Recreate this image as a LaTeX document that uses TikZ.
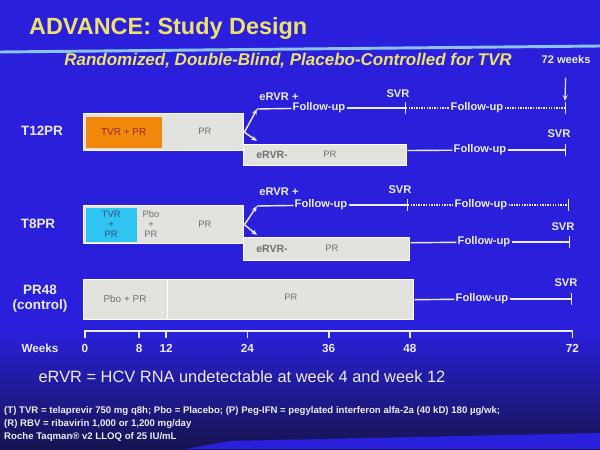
\documentclass[tikz,border=0pt]{standalone}
\usepackage{fontspec}
\setmainfont{Liberation Sans}
\usetikzlibrary{arrows.meta, positioning, calc}
\definecolor{slideblue}{RGB}{42,32,220}
\definecolor{slidenavy}{RGB}{22,20,80}
\definecolor{titleyellow}{RGB}{238,226,110}
\definecolor{rulecyan}{RGB}{140,195,240}
\definecolor{boxgray}{RGB}{226,226,222}
\definecolor{boxtext}{RGB}{112,112,112}
\definecolor{tvrorange}{RGB}{242,136,12}
\definecolor{tvrred}{RGB}{150,40,20}
\definecolor{tvrcyan}{RGB}{48,196,242}
\definecolor{tvrblue}{RGB}{50,80,130}
\definecolor{labwhite}{RGB}{236,236,250}
\newcommand{\pxu}{0.03cm}
\tikzset{
    armbox/.style={rectangle, draw=white, line width=1.2pt, fill=boxgray, inner sep=0pt, anchor=north west},
    armlab/.style={text=labwhite, font=\bfseries\fontsize{11.5}{13}\selectfont, align=center},
    flowlab/.style={text=labwhite, font=\bfseries\fontsize{9.5}{11}\selectfont, inner sep=1pt},
    boxtxt/.style={text=boxtext, font=\fontsize{8}{8.5}\selectfont, align=center},
    followline/.style={draw=labwhite, line width=1.2pt},
    dotline/.style={draw=labwhite, line width=1.2pt, dash pattern=on 1.2pt off 1pt},
    fork/.style={draw=labwhite, line width=1.2pt, -{Stealth[length=5pt, width=4pt]}},
    svrtick/.style={-{Bar[width=10pt]}}
}

\begin{document}
\begin{tikzpicture}[x=0.03cm, y=-0.03cm]

    % slide background
    \fill[slideblue] (0,0) rectangle (600,449);
    \shade[top color=slideblue, bottom color=slidenavy] (0,330) rectangle (600,449);
    \fill[slideblue] (185,449) -- (230,441) -- (600,433) -- (600,449) -- cycle;
    \useasboundingbox (0,0) rectangle (600,449);

    % heading
    \node (title) [anchor=west, text=titleyellow, font=\bfseries\fontsize{20}{24}\selectfont] at (25,28) {ADVANCE: Study Design};
    \draw[rulecyan, line width=2.5pt] (0,52) -- (600,46);
    \node (subtitle) [text=titleyellow, font=\bfseries\itshape\fontsize{14.5}{16}\selectfont] at (288,61) {Randomized, Double-Blind, Placebo-Controlled for TVR};
    \node (wk72) [text=labwhite, font=\bfseries\fontsize{9.5}{10}\selectfont] at (566,60) {72 weeks};
    \coordinate (wk72tip) at (565,101);
    \draw[labwhite, line width=1pt, -{Stealth[length=5pt, width=4pt]}, shorten <=8pt] (wk72) -- (wk72tip);

    % T12PR arm
    \node (t12lab) [armlab] at (42,131) {T12PR};
    \node (t12box) [armbox, minimum width=160*\pxu, minimum height=37*\pxu] at (83,113) {};
    \node (t12tvr) [armbox, draw=none, fill=tvrorange, minimum width=76*\pxu, minimum height=31*\pxu,
                    text=tvrred, font=\fontsize{8.5}{9}\selectfont] at (85,116) {TVR + PR};
    \node (t12pr) [boxtxt] at (205,131) {PR};
    \node (t12neg) [armbox, minimum width=163*\pxu, minimum height=21*\pxu] at (243,144) {};
    \node (t12negtxt) [boxtxt, font=\bfseries\fontsize{9}{10}\selectfont] at (272,154.5) {eRVR-};
    \node (t12negpr) [boxtxt] at (330,154.5) {PR};

    \coordinate (t12fork) at (257,109);
    \coordinate (t12down) at (257,141);
    \draw[fork] (t12box.east) -- (t12fork);
    \draw[fork] (t12box.east) -- (t12down);
    \node (t12pos) [flowlab] at (279,97) {eRVR +};
    \node (t12fu1) [flowlab] at (319,108) {Follow-up};
    \coordinate (t12svr) at (406,108);
    \draw[followline] (t12fork) -- (t12fu1);
    \draw[followline, svrtick] (t12fu1) -- (t12svr);
    \node (t12svrlab) [flowlab] at (398,94) {SVR};
    \node (t12fu2) [flowlab] at (477,108) {Follow-up};
    \coordinate (t12end) at (566,108);
    \draw[dotline] (t12svr) -- (t12fu2);
    \draw[dotline, svrtick] (t12fu2) -- (t12end);

    \node (t12fu3) [flowlab] at (480,150) {Follow-up};
    \coordinate (t12end2) at (566,150);
    \draw[followline] ([yshift=4pt]t12neg.east) -- (t12fu3);
    \draw[followline, svrtick] (t12fu3) -- (t12end2);
    \node (t12svrlab2) [flowlab] at (559,134) {SVR};

    % T8PR arm
    \node (t8lab) [armlab] at (38,224) {T8PR};
    \node (t8box) [armbox, minimum width=160*\pxu, minimum height=38*\pxu] at (83,205) {};
    \node (t8tvr) [armbox, draw=none, fill=tvrcyan, minimum width=51*\pxu, minimum height=34*\pxu,
                   text=tvrblue, align=center, font=\fontsize{8}{8.5}\selectfont] at (85,207) {TVR\\+\\PR};
    \node (t8pbo) [boxtxt] at (151,224) {Pbo\\+\\PR};
    \node (t8pr) [boxtxt] at (205,224) {PR};
    \node (t8neg) [armbox, minimum width=166*\pxu, minimum height=23*\pxu] at (243,237) {};
    \node (t8negtxt) [boxtxt, font=\bfseries\fontsize{9}{10}\selectfont] at (272,248.5) {eRVR-};
    \node (t8negpr) [boxtxt] at (332,248.5) {PR};

    \coordinate (t8fork) at (257,206);
    \coordinate (t8down) at (257,235);
    \draw[fork] (t8box.east) -- (t8fork);
    \draw[fork] (t8box.east) -- (t8down);
    \node (t8pos) [flowlab] at (279,192) {eRVR +};
    \node (t8fu1) [flowlab] at (321,205) {Follow-up};
    \coordinate (t8svr) at (408,205);
    \draw[followline] (t8fork) -- (t8fu1);
    \draw[followline, svrtick] (t8fu1) -- (t8svr);
    \node (t8svrlab) [flowlab] at (400,190) {SVR};
    \node (t8fu2) [flowlab] at (481,205) {Follow-up};
    \coordinate (t8end) at (569,205);
    \draw[dotline] (t8svr) -- (t8fu2);
    \draw[dotline, svrtick] (t8fu2) -- (t8end);

    \node (t8fu3) [flowlab] at (484,242) {Follow-up};
    \coordinate (t8end2) at (570,242);
    \draw[followline] ([yshift=5.5pt]t8neg.east) -- (t8fu3);
    \draw[followline, svrtick] (t8fu3) -- (t8end2);
    \node (t8svrlab2) [flowlab] at (563,227) {SVR};

    % PR48 control arm
    \node (pr48lab) [armlab] at (40,299) {PR48\\(control)};
    \node (pr48pbo) [armbox, minimum width=84*\pxu, minimum height=40*\pxu] at (83,279) {};
    \node (pr48pr) [armbox, minimum width=246*\pxu, minimum height=40*\pxu] at (167,279) {};
    \node (pr48pbotxt) [boxtxt, font=\fontsize{8.5}{9}\selectfont] at (125,299) {Pbo + PR};
    \node (pr48prtxt) [boxtxt] at (291,297) {PR};
    \node (pr48fu) [flowlab] at (482,299) {Follow-up};
    \coordinate (pr48end) at (572,299);
    \draw[followline] (pr48pr.east) -- (pr48fu);
    \draw[followline, svrtick] (pr48fu) -- (pr48end);
    \node (pr48svr) [flowlab] at (566,283) {SVR};

    % week axis
    \node (weeks) [flowlab, font=\bfseries\fontsize{10}{11}\selectfont] at (40,348) {Weeks};
    \coordinate (ax0) at (85,331);
    \coordinate (ax72) at (572,331);
    \draw[labwhite, line width=1.6pt] (ax0) -- (ax72);
    \foreach \w in {0,8,12,24,36,48,72} {
        \draw[labwhite, line width=1.6pt] ({85+6.77*\w},330) -- ++(0,8);
        \node (wk\w) [flowlab, font=\bfseries\fontsize{10}{11}\selectfont] at ({85+6.77*\w},348) {\w};
    }

    % definition and footnotes
    \node (ervrdef) [text=labwhite, font=\fontsize{14}{16}\selectfont] at (242,377) {eRVR = HCV RNA undetectable at week 4 and week 12};
    \node (notes) [anchor=north west, align=left, text=labwhite, inner sep=0pt, font=\bfseries\fontsize{8.2}{11.1}\selectfont] at (4,406)
        {(T) TVR = telaprevir 750 mg q8h; Pbo = Placebo; (P) Peg-IFN = pegylated interferon alfa-2a (40 kD) 180 µg/wk;\\
         (R) RBV = ribavirin 1,000 or 1,200 mg/day\\
         Roche Taqman® v2 LLOQ of 25 IU/mL};
\end{tikzpicture}
\end{document}
